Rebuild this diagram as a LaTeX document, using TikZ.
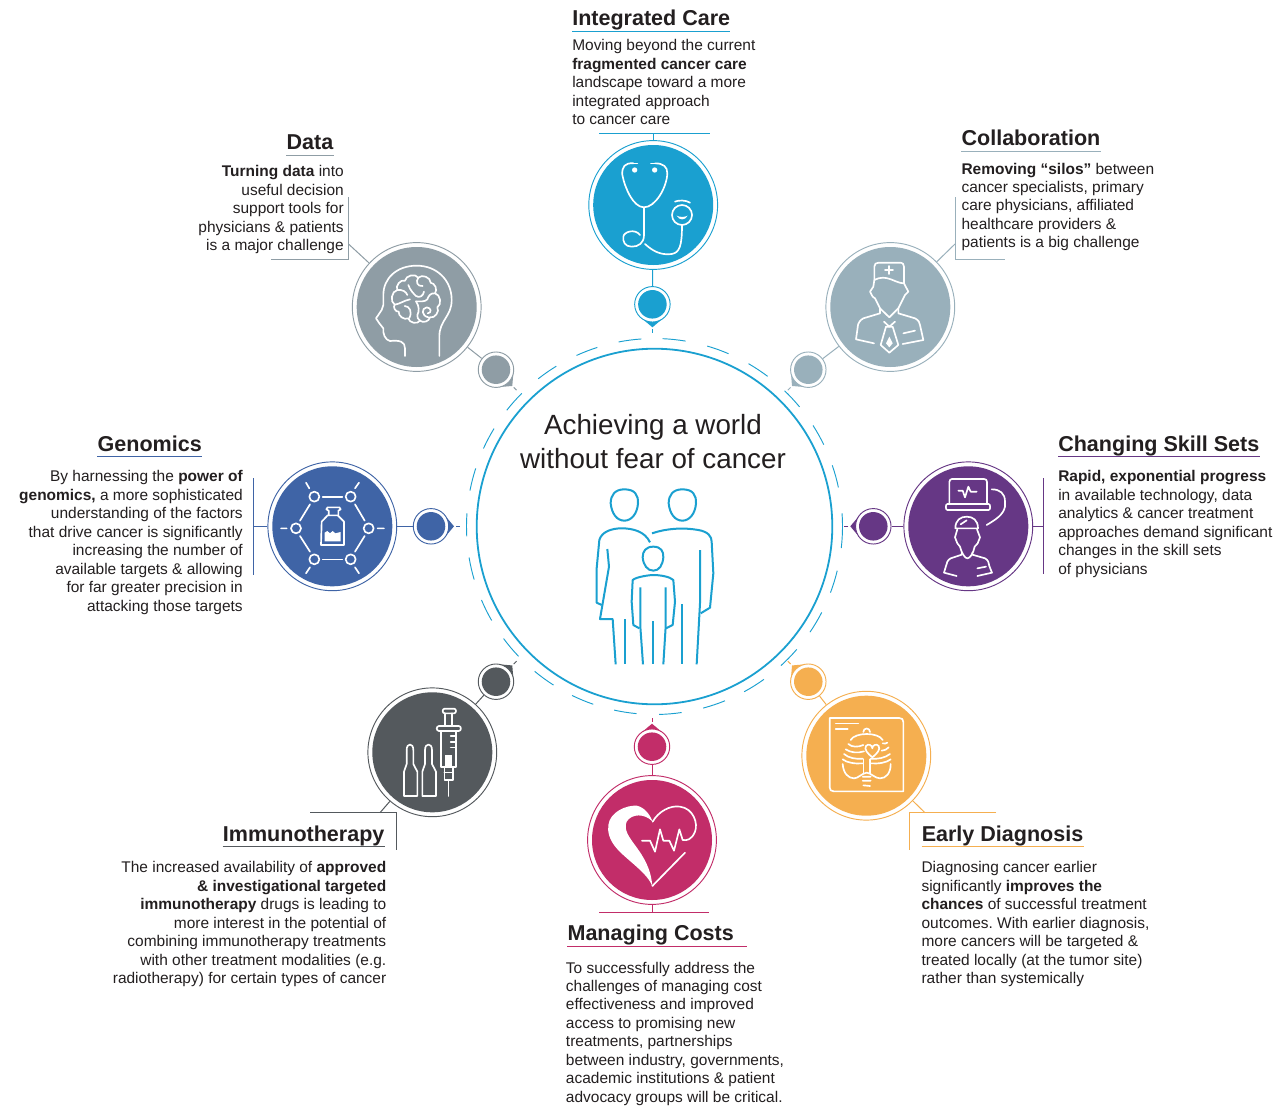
\documentclass[tikz,border=0pt]{standalone}
\usepackage{fontspec}
\setmainfont{Liberation Sans}
\frenchspacing
\definecolor{cI}{HTML}{1AA0D0}
\definecolor{cD}{HTML}{8F9DA5}
\definecolor{cC}{HTML}{99B0BB}
\definecolor{cG}{HTML}{3F64A6}
\definecolor{cS}{HTML}{663785}
\definecolor{cM}{HTML}{54595D}
\definecolor{cK}{HTML}{C22D69}
\definecolor{cE}{HTML}{F5AF50}
\definecolor{ink}{HTML}{231F20}
\tikzset{
  hubring/.style={circle,inner sep=0pt,minimum size=96.6pt,line width=.7pt,fill=white},
  hubdisc/.style={circle,inner sep=0pt,minimum size=90pt},
  tipring/.style={circle,inner sep=0pt,minimum size=26.6pt,line width=.7pt,fill=white},
  tipdisc/.style={circle,inner sep=0pt,minimum size=21.4pt},
  bodyL/.style={anchor=north west,inner sep=0pt,align=left,text=ink,font=\fontsize{11.6}{13.86}\selectfont},
  bodyR/.style={anchor=north east,inner sep=0pt,align=right,text=ink,font=\fontsize{11.6}{13.86}\selectfont},
  headL/.style={anchor=base west,inner sep=0pt,text=ink,font=\fontsize{16.15}{19}\selectfont\bfseries},
  headR/.style={anchor=base east,inner sep=0pt,text=ink,font=\fontsize{16.15}{19}\selectfont\bfseries},
  wire/.style={line width=.75pt},
  icon/.style={x=.25pt,y=-.25pt,line width=1.25pt,line cap=round,line join=round},
}
\newcommand{\fl}{\rule{0pt}{10pt}}
% name, colour, big x,y, small x,y, direction of the pointer
\newcommand{\Hub}[7]{%
  \node[hubring,draw=#2] (b#1) at (#3,#4) {};
  \node[hubdisc,fill=#2] (bf#1) at (#3,#4) {};
  \begin{scope}[shift={(#5,#6)},x=.75pt,y=.75pt]
    \fill[#2] (#7:23) -- (#7+40:17.6) -- (#7-40:17.6) -- cycle;
    \draw[#2,wire] (#7:25) -- (#7:29);
  \end{scope}
  \node[tipring,draw=#2] (s#1) at (#5,#6) {};
  \node[tipdisc,fill=#2] (sf#1) at (#5,#6) {};
  \draw[#2,wire] (b#1) -- (s#1);
}
\newcommand{\Under}[2]{\draw[#2,wire] ([yshift=-4.2pt]#1.base west) -- ([yshift=-4.2pt]#1.base east);}
\begin{document}
\begin{tikzpicture}[x=.75pt,y=-.75pt]
\useasboundingbox (0,0) rectangle (1286,1106);
\fill[white] (0,0) rectangle (1286,1106);

% centre
\node[circle,draw=cI,line width=1.35pt,inner sep=0pt,minimum size=266.7pt] (core) at (654.5,526.5) {};
\begin{scope}[shift={(654.5,526.5)},x=.75pt,y=.75pt]
  \foreach \a/\b in {101/94,87.5/80.5,73.7/66.8,60/53,46.2/39.5,32.5/25.8,19/12,4/-6.6,-13.6/-20.6,-27.2/-34.2,-40.8/-47.7,-54.4/-61.5,-68/-75,-81.7/-88.6,-95.5/-102.4,-109/-116,-122.5/-129.6,-136.3/-143.4,-150/-157,-163.6/-170.5,-177/-184,-191/-198,-204.5/-211.4,-218.2/-225.1,-231.8/-238.5,-245.5/-252.3}
    \draw[cI,line width=.7pt] (\a:188) arc[start angle=\a,end angle=\b,radius=141pt];
\end{scope}
\node[anchor=north,inner sep=0pt,align=center,text=ink,font=\fontsize{20.85}{25.7}\selectfont] (title) at (653,412.7) {\rule{0pt}{16pt}Achieving a world\\without fear of cancer};

% family
\begin{scope}[shift={(570,470)},icon,draw=cI,line width=1.5pt,line cap=butt]
  \draw (163,58) .. controls (195,58) and (205,75) .. (204,100) .. controls (202,130) and (185,152) .. (163,152) .. controls (140,152) and (125,130) .. (122,100) .. controls (122,75) and (135,58) .. (163,58) -- cycle;
  \draw (337,58) .. controls (369,58) and (379,75) .. (378,100) .. controls (376,130) and (359,152) .. (337,152) .. controls (314,152) and (299,130) .. (296,100) .. controls (296,75) and (309,58) .. (337,58) -- cycle;
  \draw (250,230) .. controls (272,230) and (281,243) .. (280,262) .. controls (278,285) and (268,302) .. (250,302) .. controls (232,302) and (220,285) .. (218,262) .. controls (218,243) and (228,230) .. (250,230) -- cycle;
  \draw (240,217) .. controls (225,185) and (190,175) .. (155,175) .. controls (125,175) and (95,185) .. (88,210) -- (80,295) -- (80,398) -- (95,405);
  \draw (112,237) -- (117,290) -- (90,447) -- (128,447) -- (137,583);
  \draw (166,447) -- (166,583);
  \draw (246,190) .. controls (290,175) and (340,172) .. (385,180) .. controls (415,185) and (425,200) .. (425,215) -- (430,310) -- (420,413) -- (392,430);
  \draw (390,240) -- (390,400) -- (380,583);
  \draw (336,403) -- (336,583);
  \draw (208,475) -- (190,465) -- (185,395) -- (188,330) .. controls (200,320) and (240,315) .. (250,315) .. controls (270,315) and (300,320) .. (310,330) -- (315,395) -- (308,465) -- (288,475);
  \draw (211,352) -- (211,470) -- (219,583);
  \draw (287,352) -- (287,470) -- (280,583);
  \draw (249,453) -- (249,583);
\end{scope}

% hubs
\Hub{I}{cI}{653.2}{205}{652.4}{304.3}{-90}
\Hub{D}{cD}{416.7}{307}{496}{369.7}{-45}
\Hub{C}{cC}{890.3}{307}{808.3}{369.7}{-135}
\Hub{G}{cG}{332.3}{526.3}{431}{526.3}{0}
\Hub{S}{cS}{968.3}{526.3}{873.3}{526.3}{180}
\Hub{M}{cM}{432.3}{752.3}{496}{681.7}{45}
\Hub{K}{cK}{652}{840}{652}{746.7}{90}
\Hub{E}{cE}{866.3}{755.7}{808.3}{681.7}{135}

% brackets
\coordinate (jI) at (653.2,134);
\draw[cI,wire] (599,134) -- (710,134);
\draw[cI,wire] (bI) -- (jI);
\coordinate (jD) at (348.5,244);
\draw[cD,wire] (348.5,197) -- (348.5,259) -- (271,259);
\draw[cD,wire] (bD) -- (jD);
\coordinate (jC) at (955,244);
\draw[cC,wire] (955,197) -- (955,259) -- (1005,259);
\draw[cC,wire] (bC) -- (jC);
\coordinate (jG) at (253.3,526.3);
\draw[cG,wire] (253.3,478.3) -- (253.3,575);
\draw[cG,wire] (bG) -- (jG);
\coordinate (jS) at (1043.7,526.3);
\draw[cS,wire] (1043.7,478) -- (1043.7,574.3);
\draw[cS,wire] (bS) -- (jS);
\coordinate (jM) at (380,812.7);
\draw[cM,wire] (310,812.7) -- (396.7,812.7) -- (396.7,850);
\draw[cM,wire] (bM) -- (jM);
\coordinate (jK) at (652,912.7);
\draw[cK,wire] (599.3,912.7) -- (709.3,912.7);
\draw[cK,wire] (bK) -- (jK);
\coordinate (jE) at (925,812.7);
\draw[cE,wire] (996,812.7) -- (909.5,812.7) -- (909.5,850);
\draw[cE,wire] (bE) -- (jE);

% stethoscope
\begin{scope}[shift={(560,120)},icon,draw=white,fill=white]
  \draw (220,130) .. controls (195,128) and (185,140) .. (187,165) .. controls (195,205) and (220,262) .. (252,262) .. controls (285,262) and (320,205) .. (322,160) .. controls (322,140) and (310,130) .. (285,130);
  \fill (224,150) circle[radius=8];
  \fill (284,150) circle[radius=8];
  \draw (220,130) -- (232,130) (285,130) -- (273,130);
  \draw (252,262) -- (252,345) .. controls (252,370) and (235,380) .. (215,380) .. controls (195,380) and (188,365) .. (190,350) .. controls (192,335) and (225,325) .. (240,345);
  \draw (255,372) .. controls (285,400) and (310,405) .. (335,402) .. controls (358,398) and (366,380) .. (366,315);
  \draw (366,285) circle[radius=30];
  \draw (345,245) .. controls (355,240) and (378,240) .. (390,248);
  \fill (350,287) .. controls (358,302) and (375,302) .. (383,287) .. controls (375,292) and (358,292) .. (350,287) -- cycle;
\end{scope}

% brain
\begin{scope}[shift={(340,230)},icon,draw=white]
  \draw (195,378) -- (195,355) .. controls (195,335) and (180,330) .. (150,333) .. controls (135,330) and (128,310) .. (130,295) -- (118,280) -- (108,265) -- (125,240) -- (130,225) -- (130,195) .. controls (130,145) and (170,107) .. (230,107) .. controls (290,107) and (335,150) .. (335,210) .. controls (335,260) and (298,270) .. (298,320) -- (298,378);
  \draw (164,224) to[bend left=70] (172,180) to[bend left=70] (195,152) to[bend left=70] (235,143) to[bend left=70] (272,158) to[bend left=60] (285,190) to[bend left=70] (292,232) to[bend left=70] (270,262) to[bend left=60] (240,272) to[bend left=70] (205,265) to[bend left=60] (176,245) to[bend left=70] (164,224) -- cycle;
  \draw (172,180) .. controls (188,178) and (198,185) .. (202,195);
  \draw (205,165) .. controls (210,180) and (220,190) .. (228,198) .. controls (238,205) and (250,198) .. (252,185);
  \draw (235,143) .. controls (226,155) and (232,170) .. (248,168);
  \draw (164,224) .. controls (180,222) and (190,212) .. (210,208);
  \draw (285,190) .. controls (272,188) and (265,198) .. (262,208) .. controls (255,216) and (242,214) .. (228,214);
  \draw (228,214) .. controls (238,228) and (238,245) .. (232,255) .. controls (230,262) and (235,268) .. (240,272);
  \draw (194,228) .. controls (208,228) and (218,245) .. (208,264);
  \draw (265,262) .. controls (245,258) and (243,235) .. (260,232) .. controls (274,232) and (276,250) .. (263,250);
\end{scope}

% doctor
\begin{scope}[shift={(780,230)},icon,draw=white,fill=white]
  \draw (283,150) -- (283,110) .. controls (283,102) and (288,98) .. (296,98) -- (358,98) .. controls (368,98) and (372,102) .. (372,110) -- (372,160) .. controls (345,160) and (320,130) .. (283,150);
  \draw (327,108) -- (327,132) (315,120) -- (339,120);
  \draw (283,150) -- (280,170) -- (270,185) -- (278,200) -- (285,205) -- (300,235) -- (328,262) -- (355,235) -- (375,195) -- (385,185) -- (372,160);
  \draw (300,235) -- (300,250) -- (250,265) .. controls (240,270) and (235,280) .. (234,285) -- (228,328) -- (282,340);
  \draw (355,235) -- (355,250) -- (405,265) .. controls (415,270) and (420,278) .. (420,285) -- (430,330) -- (368,342);
  \draw (312,275) -- (328,290) -- (345,275);
  \draw (318,290) -- (338,290) -- (355,345) -- (328,368) -- (302,345) -- cycle;
  \fill (328,320) -- (338,340) -- (328,352) -- (318,340) -- cycle;
  \draw (370,310) -- (405,302);
\end{scope}

% genomics
\begin{scope}[shift={(250,450)},icon,draw=white,fill=white]
  \foreach \p in {(193,140),(302,140),(138,235),(356,235),(193,328),(302,328)}
    \draw \p circle[radius=15];
  \draw (218,140) -- (277,140) (218,328) -- (277,328);
  \draw (180,163) -- (150,212) (150,258) -- (180,305) (315,163) -- (344,212) (344,258) -- (315,305);
  \draw (178,115) -- (168,98) (315,115) -- (327,98) (110,235) -- (93,235) (383,235) -- (402,235) (180,352) -- (168,370) (315,352) -- (327,370);
  \draw (233,196) -- (215,215) -- (213,285) -- (282,285) -- (282,215) -- (263,196) -- cycle;
  \draw (236,196) -- (236,182) -- (229,178) -- (233,172) -- (268,172) -- (272,178) -- (265,182) -- (265,196);
  \fill (224,248) -- (232,243) -- (240,250) -- (248,243) -- (256,250) -- (272,246) -- (272,274) -- (224,274) -- cycle;
\end{scope}

% skill sets
\begin{scope}[shift={(840,450)},icon,draw=white,fill=white]
  \draw (328,160) -- (328,96) .. controls (328,90) and (332,87) .. (336,87) -- (432,87) .. controls (438,87) and (441,90) .. (441,96) -- (441,160);
  \draw (322,162) -- (446,162) .. controls (452,162) and (452,180) .. (446,180) -- (322,180) .. controls (316,180) and (316,162) .. (322,162) -- cycle;
  \draw (355,122) -- (368,122) -- (375,142) -- (385,110) -- (392,125) -- (410,125);
  \draw (455,118) .. controls (480,118) and (495,130) .. (495,155) -- (495,170) .. controls (490,195) and (465,210) .. (440,225);
  \draw (346,235) .. controls (346,210) and (362,200) .. (380,200) .. controls (398,200) and (414,210) .. (414,235) -- cycle;
  \draw (362,223) -- (380,211);
  \draw (352,238) -- (345,262) -- (352,280) -- (360,290) .. controls (365,310) and (375,325) .. (382,325) .. controls (390,325) and (400,310) .. (404,290) -- (413,280) -- (420,262) -- (411,238);
  \draw (365,308) -- (365,314) -- (332,325) .. controls (322,330) and (320,340) .. (318,348) -- (312,368) -- (350,378);
  \draw (397,308) -- (397,314) -- (435,325) .. controls (445,330) and (447,340) .. (448,348) -- (456,368) -- (412,378);
  \draw (412,355) -- (438,350);
\end{scope}

% immunotherapy
\begin{scope}[shift={(360,660)},icon,draw=white,fill=white]
  \draw (132,408) -- (132,335) -- (140,312) -- (140,270) .. controls (140,248) and (160,248) .. (160,270) -- (160,312) -- (172,335) -- (172,408) -- cycle;
  \draw (187,408) -- (187,335) -- (195,312) -- (195,270) .. controls (195,248) and (216,248) .. (216,270) -- (216,312) -- (228,335) -- (228,408) -- cycle;
  \draw (254,146) -- (282,146) .. controls (290,146) and (290,160) .. (282,160) -- (254,160) .. controls (246,160) and (246,146) .. (254,146) -- cycle;
  \draw (255,160) -- (255,198) (275,160) -- (275,198);
  \draw (237,198) -- (296,198) .. controls (305,198) and (305,213) .. (296,213) -- (237,213) .. controls (228,213) and (228,198) .. (237,198) -- cycle;
  \draw (243,213) -- (243,320) -- (288,320) -- (288,213);
  \draw (288,228) -- (272,228) (288,245) -- (272,245) (288,262) -- (272,262);
  \fill (256,285) rectangle (275,318);
  \draw (253,320) -- (253,360) -- (278,360) -- (278,320) (253,337) -- (278,337);
  \draw (265,360) -- (265,408);
\end{scope}

% heart
\begin{scope}[shift={(570,710)},icon,draw=white,fill=white]
  \fill (247,530) .. controls (235,490) and (170,450) .. (140,415) .. controls (118,390) and (112,365) .. (115,345) .. controls (120,305) and (170,285) .. (200,287) .. controls (225,292) and (240,315) .. (248,335) .. controls (225,310) and (185,310) .. (170,335) .. controls (150,385) and (240,420) .. (247,530) -- cycle;
  \draw (248,335) .. controls (265,305) and (300,285) .. (330,290) .. controls (370,295) and (385,340) .. (375,365) .. controls (365,390) and (350,392) .. (338,390) -- (328,358) -- (312,422) -- (298,392) -- (280,392) -- (270,358) -- (255,425) -- (240,392) -- (216,392);
  \draw (247,528) -- (345,428);
\end{scope}

% x-ray
\begin{scope}[shift={(780,660)},icon,draw=white,fill=white]
  \draw (149,174) -- (358,174) .. controls (366,174) and (370,178) .. (370,186) -- (370,394) -- (161,394) .. controls (153,394) and (149,390) .. (149,382) -- cycle;
  \draw (167,190) -- (235,190) (167,206) -- (203,206);
  \draw (250,216) .. controls (250,202) and (270,202) .. (270,216);
  \draw (212,240) .. controls (225,216) and (295,216) .. (308,240);
  \draw (205,252) .. controls (215,262) and (235,262) .. (250,255);
  \draw (308,250) .. controls (315,252) and (318,250) .. (322,248);
  \draw (197,268) .. controls (210,278) and (235,280) .. (252,274);
  \draw (305,272) .. controls (312,272) and (322,268) .. (326,262);
  \draw (192,282) .. controls (205,294) and (228,298) .. (248,296);
  \draw (272,296) .. controls (292,298) and (315,294) .. (330,282);
  \draw (188,298) .. controls (200,308) and (225,312) .. (248,310);
  \draw (272,310) .. controls (295,312) and (320,308) .. (332,298);
  \draw (188,312) .. controls (190,340) and (205,355) .. (222,355) .. controls (235,355) and (245,340) .. (260,338) .. controls (275,340) and (285,355) .. (300,355) .. controls (318,355) and (332,340) .. (332,312);
  \draw (250,298) -- (250,338) (270,298) -- (270,338);
  \draw (248,350) -- (272,350) (248,362) -- (272,362) (250,376) -- (270,378);
  \draw (277,292) .. controls (262,280) and (252,268) .. (258,258) .. controls (264,250) and (277,255) .. (277,265) .. controls (277,255) and (290,250) .. (296,258) .. controls (302,268) and (292,280) .. (277,292) -- cycle;
\end{scope}

% texts
\node[headL] (hI) at (572,26) {Integrated Care};
\Under{hI}{cI}
\node[bodyL] (tI) at (572,37.2) {\fl Moving beyond the current\\\textbf{fragmented cancer care}\\landscape toward a more\\integrated approach\\to cancer care};

\node[headR] (hD) at (333.5,150) {Data};
\Under{hD}{cD}
\node[bodyR] (tD) at (344,163.2) {\fl\textbf{Turning data} into\\useful decision\\support tools for\\physicians \& patients\\is a major challenge};

\node[headL] (hC) at (961.3,146) {Collaboration};
\Under{hC}{cC}
\node[bodyL] (tC) at (961.3,160.4) {\fl\textbf{Removing ``silos''} between\\cancer specialists, primary\\care physicians, affiliated\\healthcare providers \&\\patients is a big challenge};

\node[headR] (hG) at (202,451) {Genomics};
\Under{hG}{cG}
\node[bodyR] (tG) at (243,468.2) {\fl By harnessing the \textbf{power of}\\\textbf{genomics,} a more sophisticated\\understanding of the factors\\that drive cancer is significantly\\increasing the number of\\available targets \& allowing\\for far greater precision in\\attacking those targets};

\node[headL] (hS) at (1058,451) {Changing Skill Sets};
\Under{hS}{cS}
\node[bodyL] (tS) at (1058,468.2) {\fl\textbf{Rapid, exponential progress}\\in available technology, data\\analytics \& cancer treatment\\approaches demand significant\\changes in the skill sets\\of physicians};

\node[headR] (hM) at (384.7,841) {Immunotherapy};
\Under{hM}{cM}
\node[bodyR] (tM) at (386.5,859.2) {\fl The increased availability of \textbf{approved}\\\textbf{\& investigational targeted}\\\textbf{immunotherapy} drugs is leading to\\more interest in the potential of\\combining immunotherapy treatments\\with other treatment modalities (e.g.\\radiotherapy) for certain types of cancer};

\node[headL] (hK) at (567.3,940.5) {Managing Costs};
\draw[cK,wire] ([yshift=-4.2pt]hK.base west) -- ([xshift=10pt,yshift=-4.2pt]hK.base east);
\node[bodyL] (tK) at (565.7,959.4) {\fl To successfully address the\\challenges of managing cost\\effectiveness and improved\\access to promising new\\treatments, partnerships\\between industry, governments,\\academic institutions \& patient\\advocacy groups will be critical.};

\node[headL] (hE) at (921.5,841) {Early Diagnosis};
\Under{hE}{cE}
\node[bodyL] (tE) at (921.3,859.2) {\fl Diagnosing cancer earlier\\significantly \textbf{improves the}\\\textbf{chances} of successful treatment\\outcomes. With earlier diagnosis,\\more cancers will be targeted \&\\treated locally (at the tumor site)\\rather than systemically};
\end{tikzpicture}
\end{document}
